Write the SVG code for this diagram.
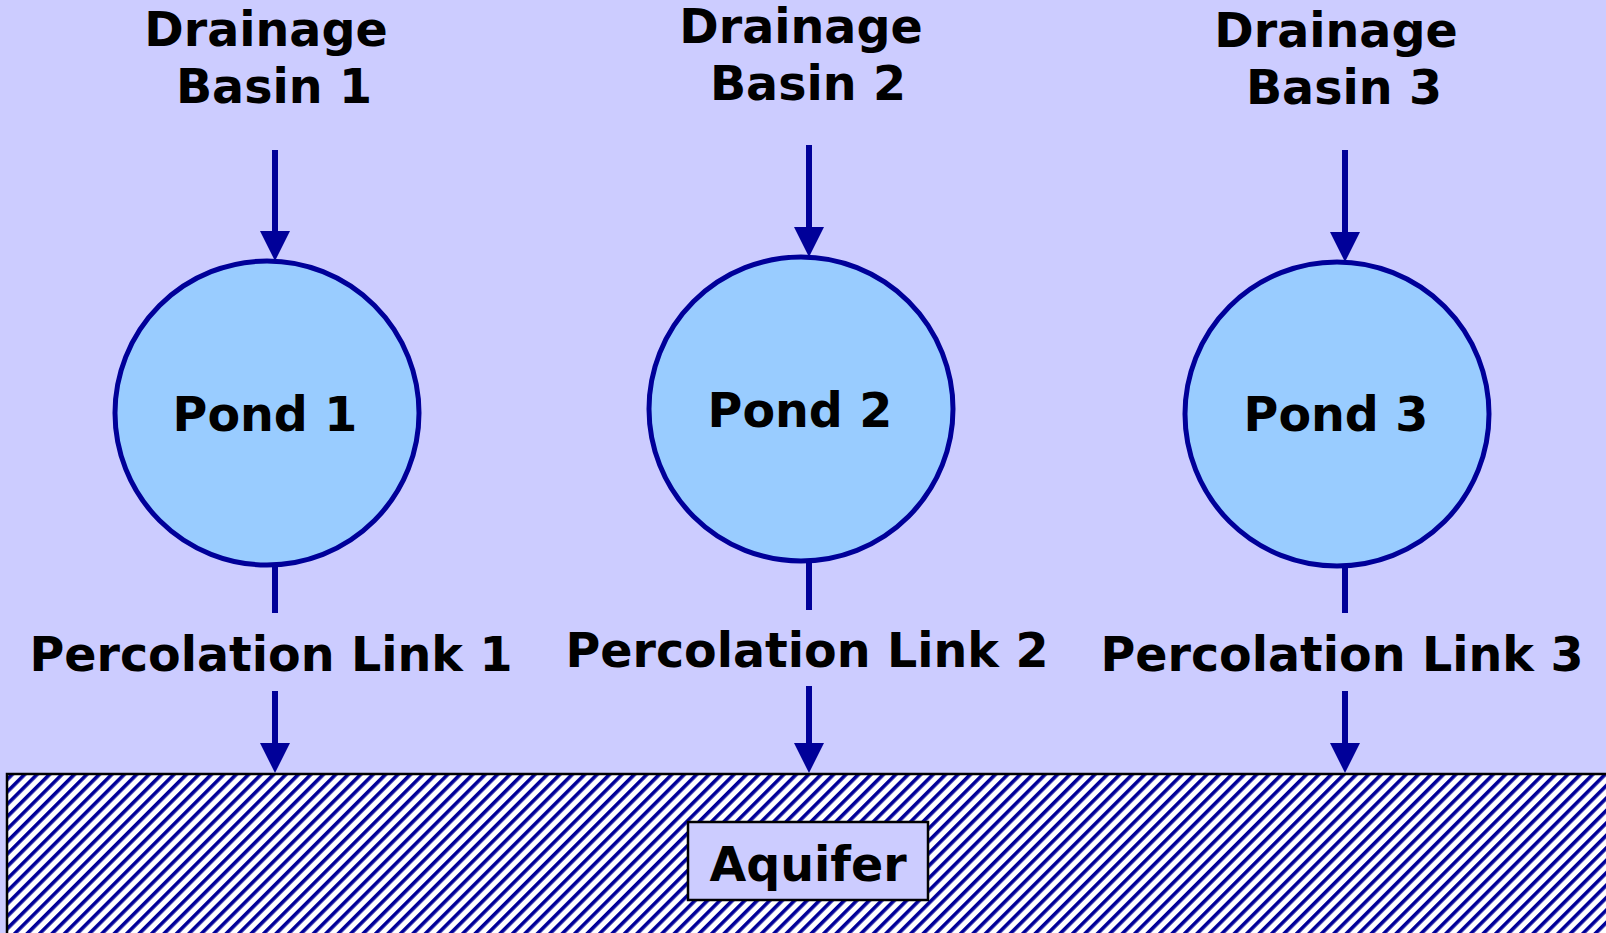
<svg xmlns="http://www.w3.org/2000/svg" width="1606" height="933" viewBox="0 0 1606 933">
<style>
.t{font-family:"DejaVu Sans",Verdana,sans-serif;font-weight:bold;font-size:47.5px;fill:#000;text-anchor:middle}
.pond{fill:#99CCFF;stroke:#000099;stroke-width:5}
.ln{stroke:#000099;stroke-width:6;fill:none}
</style>
<defs>
<pattern id="hatch" patternUnits="userSpaceOnUse" width="8.8" height="20" patternTransform="rotate(45)">
<rect width="8.8" height="20" fill="#fff"/>
<rect x="0" width="3.6" height="20" fill="#000099"/>
</pattern>
<marker id="ah" markerUnits="userSpaceOnUse" viewBox="0 0 30 30" markerWidth="30" markerHeight="30" refX="0" refY="15" orient="auto">
<path d="M0,0 L30,15 L0,30 z" fill="#000099"/>
</marker>
</defs>
<rect width="1606" height="933" fill="#CCCCFF"/>
<g id="aquifer">
<rect x="7" y="774" width="1610" height="170" fill="url(#hatch)" stroke="#000" stroke-width="2.5"/>
<rect x="688" y="822" width="240" height="78" fill="#CCCCFF" stroke="#000" stroke-width="2.5"/>
<text class="t" x="808" y="881">Aquifer</text>
</g>
<g id="basin1"><text class="t" x="266" y="46">Drainage</text><text class="t" x="274" y="103">Basin 1</text></g>
<g id="basin2"><text class="t" x="801" y="43">Drainage</text><text class="t" x="808" y="100">Basin 2</text></g>
<g id="basin3"><text class="t" x="1336" y="47">Drainage</text><text class="t" x="1344" y="104">Basin 3</text></g>
<g id="pond1"><circle class="pond" cx="267" cy="413" r="152"/><text class="t" x="265" y="431">Pond 1</text></g>
<g id="pond2"><circle class="pond" cx="801" cy="409" r="152"/><text class="t" x="800" y="427">Pond 2</text></g>
<g id="pond3"><circle class="pond" cx="1337" cy="414" r="152"/><text class="t" x="1336" y="431">Pond 3</text></g>
<g id="link1"><text class="t" x="271" y="671">Percolation Link 1</text></g>
<g id="link2"><text class="t" x="807" y="667">Percolation Link 2</text></g>
<g id="link3"><text class="t" x="1342" y="671">Percolation Link 3</text></g>
<g id="connectors">
<line class="ln" x1="275" y1="150" x2="275" y2="231" marker-end="url(#ah)"/>
<line class="ln" x1="809" y1="145" x2="809" y2="227" marker-end="url(#ah)"/>
<line class="ln" x1="1345" y1="150" x2="1345" y2="232" marker-end="url(#ah)"/>
<line class="ln" x1="275" y1="565" x2="275" y2="613"/>
<line class="ln" x1="809" y1="561" x2="809" y2="610"/>
<line class="ln" x1="1345" y1="566" x2="1345" y2="613"/>
<line class="ln" x1="275" y1="691" x2="275" y2="743" marker-end="url(#ah)"/>
<line class="ln" x1="809" y1="686" x2="809" y2="743" marker-end="url(#ah)"/>
<line class="ln" x1="1345" y1="691" x2="1345" y2="743" marker-end="url(#ah)"/>
</g>
</svg>
